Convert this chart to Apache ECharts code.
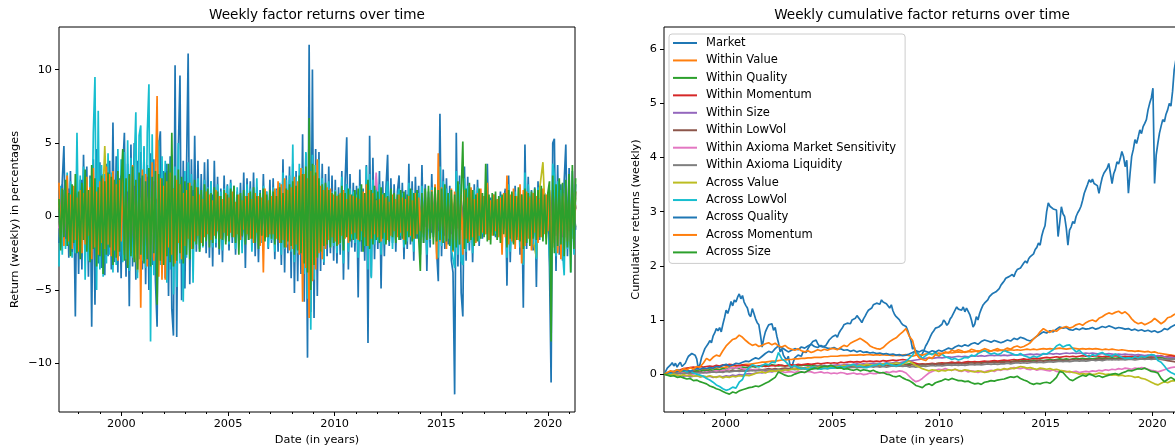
<!DOCTYPE html>
<html>
<head>
<meta charset="utf-8">
<script src="https://cdn.jsdelivr.net/npm/echarts@6/dist/echarts.min.js"></script>
<style>
html,body{margin:0;padding:0;background:#fff;}
#chart{width:1175px;height:448px;}
</style>
</head>
<body>
<div id="chart"></div>
<script>
// Factor names (legend order) and their colours
const NAMES = ['Market','Within Value','Within Quality','Within Momentum','Within Size','Within LowVol',
  'Within Axioma Market Sensitivity','Within Axioma Liquidity','Across Value','Across LowVol',
  'Across Quality','Across Momentum','Across Size'];
const COLORS = ['#1f77b4','#ff7f0e','#2ca02c','#d62728','#9467bd','#8c564b','#e377c2','#7f7f7f',
  '#bcbd22','#17becf','#1f77b4','#ff7f0e','#2ca02c'];

// Tick labels
const MAJOR_YEARS = [2000, 2005, 2010, 2015, 2020];
const MINOR_YEARS = [1998, 1999, 2001, 2002, 2003, 2004, 2006, 2007, 2008, 2009, 2011, 2012, 2013, 2014, 2016, 2017, 2018, 2019, 2021];
const RET_TICKS = [-10, -5, 0, 5, 10];
const CUM_TICKS = [0, 1, 2, 3, 4, 5, 6];

// Sampling of the series (decimal years)
const RET_START = 1997.075;
const CUM_START = 1997.11;
const FINE = 28 / 365.25;    // every 4 weeks
const COARSE = 56 / 365.25;  // every 8 weeks

// ---------- weekly returns (%) ----------
const retMarket = [
1.8,-2.1,2.4,4.8,-1.5,2.3,-2.8,3.1,-2.6,1.2,-6.8,3.3,-3.9,
2.5,-3.6,4.2,-1.9,3.4,-4.1,2.8,-7.5,3.9,-6.0,4.6,-3.2,3.7,
-3.5,2.9,-4.0,3.6,-2.7,3.8,-3.6,6.4,-3.1,4.1,-3.8,2.6,-4.2,
3.3,5.7,-4.1,3.6,-6.1,4.9,-3.4,5.0,-4.3,3.8,-2.9,4.4,-3.6,
4.7,-4.6,3.5,-5.0,4.3,-3.3,3.9,-4.4,-7.5,4.8,5.8,-3.7,3.1,
-4.2,3.6,-5.4,4.1,-6.3,-8.1,10.3,-8.2,4.5,9.6,-5.7,3.8,-4.9,
-5.0,11.1,-4.6,3.9,-3.1,5.5,-2.4,3.8,-2.2,2.9,-1.9,3.7,-2.5,
3.9,-2.8,2.4,-3.4,3.8,-2.1,2.7,-2.6,1.9,-3.1,2.8,-1.7,2.2,
-2.3,2.5,-1.8,2.1,-2.6,1.7,-1.5,2.3,-2.0,3.0,-3.5,2.6,-1.6,
2.4,-1.9,3.0,-2.7,2.0,-3.1,1.8,-1.6,2.9,-1.4,1.7,-2.2,2.5,
-1.8,2.6,-2.9,1.9,-2.4,2.2,-3.3,3.9,-3.8,2.8,-2.5,3.4,-4.2,
3.6,-5.2,3.1,-4.4,2.7,-3.9,5.6,-5.8,4.3,-9.6,11.7,-6.5,10.0,
-6.9,4.6,-5.4,4.4,-3.7,3.6,-3.3,2.9,-2.7,3.4,-2.5,2.8,-3.0,
2.5,-3.2,2.0,-2.6,3.1,-4.3,2.4,5.4,-3.6,2.9,-2.1,2.3,-2.4,
2.1,-5.5,3.2,-2.4,1.9,-3.0,3.5,-8.6,5.5,-4.1,4.0,-2.9,2.6,
-2.2,3.1,-4.9,2.4,-2.7,1.9,4.2,-2.0,2.6,-1.8,2.2,-2.4,1.7,
2.8,-1.6,2.3,-2.9,1.8,-2.2,3.6,-1.9,2.4,-3.0,2.7,-1.5,2.1,
-2.6,3.5,-1.8,2.2,-3.7,1.7,-2.1,2.9,-1.4,2.0,-2.4,-4.4,7.0,
-2.7,3.2,-2.2,2.6,-1.9,2.1,-3.0,-3.8,-12.1,5.7,-3.4,2.8,-5.2,
-6.8,3.4,-3.0,2.7,-2.3,1.9,-3.1,2.2,-1.7,2.5,-2.0,1.6,-1.5,
1.4,-1.2,3.6,-1.6,1.3,-1.0,1.5,-1.4,1.1,-1.3,1.7,-0.9,1.2,
1.9,-4.7,2.8,-3.1,1.6,-1.8,2.1,-1.4,1.3,-2.6,1.5,-6.2,4.9,
-2.2,2.7,-1.5,1.8,-2.3,2.0,-4.8,2.4,-1.6,1.9,-1.3,1.6,-1.1,1.4,
-3.4,-11.3,5.0,5.3,-3.7,3.5,-2.6,2.2,-3.0,2.4,4.9,-2.7,3.3,
-2.4,3.1,-1.8,2.2];

const retWithinValue = [
0.8,-1.1,0.6,-0.9,1.3,-0.7,0.9,-1.2,0.7,-0.8,1.1,-1.4,0.9,
-0.6,1.2,-1.0,0.8,-1.3,0.7,-0.9,1.4,-1.1,0.6,-1.5,1.0,-0.8,
1.3,-1.2,0.9,-1.4,1.1,-0.7,1.5,-1.0,0.8,-0.9,1.2,-0.8,0.7,
-1.1,0.9,-0.6,0.8,-0.7,1.0,-0.9,0.6,-0.8,0.7,-0.6,0.9,-0.7,
0.8,-1.0,0.6,-0.8,0.9,-0.5,0.7,-0.9,0.6,-0.7,1.0,-0.8,0.6,
-0.9,0.7,-0.6,0.8,-0.7,1.1,-1.3,0.9,-1.6,1.2,-1.4,1.7,-1.2,
1.0,-0.9,1.1,-0.8,0.9,-1.0,0.7,-0.8,0.9,-0.6,0.8,-0.7,0.6,
-0.9,0.8,-0.6,0.7,-0.8,0.9,-0.7,0.6,-0.5,0.8,-0.7,0.6,-0.8,
0.7,-0.6,0.9,-0.7,0.5,-0.8,0.7,-0.9,0.8,-0.6,0.7,-0.9,0.6,
-0.7,0.8,-0.5,0.7,-0.8,0.6,-0.7,0.9,-0.6,0.7,-0.8,0.5,-0.6,
0.8,-0.7,0.6,-0.9,0.7,-0.6,0.8,-0.5,0.7,-0.8,1.0,-1.2,0.9,
-1.1,0.8,-1.0,1.1,-0.9,0.8,-1.0,0.9,-1.3,1.2,-0.9,1.0,-0.8,
0.9,-0.7,0.8];

const retWithinQuality = [
-0.7,0.9,-1.2,0.8,-0.6,1.1,-0.9,0.7,-1.3,1.0,-0.8,0.6,-1.0,
1.2,-0.9,0.7,-1.1,1.4,-0.8,1.0,-1.3,0.9,-1.2,1.1,-0.7,1.3,
-1.0,1.2,-1.4,0.8,-1.1,1.5,-0.9,1.0,-1.2,0.7,-0.9,1.1,-0.8,
0.9,-0.7,1.0,-0.8,0.6,-0.9,0.8,-0.6,0.7,-0.8,0.9,-0.5,0.7,
-0.6,0.8,-0.7,0.5,-0.9,0.7,-0.6,0.8,-0.5,0.9,-0.7,0.6,-0.8,
0.6,-0.8,0.7,-0.9,0.8,-0.6,0.9,-1.1,1.3,-1.0,1.4,-1.2,1.1,
-0.9,1.0,-0.8,0.7,-0.9,0.6,-0.7,0.8,-0.6,0.9,-0.7,0.5,-0.8,
0.7,-0.9,0.6,-0.8,1.0,-0.7,0.6,-0.9,0.8,-0.5,0.7,-0.8,0.6,
-0.5,0.8,-0.7,0.6,-0.8,0.7,-0.6,0.9,-0.7,0.5,-0.8,0.6,-0.7,
0.9,-0.8,0.6,-0.9,0.7,-0.6,0.8,-0.7,0.6,-0.9,0.5,-0.7,0.8,
-0.6,0.7,-0.5,0.8,-0.6,0.7,-0.8,0.6,-0.7,0.5,-0.8,0.9,-0.7,
0.8,-1.0,0.7,-0.9,1.1,-0.8,0.9,-1.2,1.0,-0.9,0.8,-1.1,0.9,
-0.8,1.0,-0.7];

const retWithinMomentum = [
1.0,-0.8,1.3,-1.1,0.7,-1.2,0.9,-0.6,1.1,-0.9,1.4,-1.0,0.8,
-1.2,0.9,-0.7,1.3,-1.0,1.1,-1.4,0.8,-0.9,1.2,-1.1,1.5,-0.8,
0.9,-1.3,1.1,-0.8,1.2,-1.0,0.7,-1.2,1.0,-0.9,0.8,-1.1,0.9,
-0.8,0.6,-0.9,0.7,-0.5,0.8,-0.7,0.9,-0.6,0.5,-0.8,0.7,-0.6,
0.7,-0.6,0.5,-0.8,0.6,-0.7,0.9,-0.5,0.6,-0.7,0.8,-0.6,0.5,
-0.7,0.8,-0.6,0.9,-0.8,0.7,-1.0,1.2,-0.9,1.1,-1.5,1.3,-1.1,
1.2,-1.0,0.9,-1.1,0.8,-0.7,1.0,-0.8,0.6,-0.9,0.7,-0.6,0.8,
-0.7,0.6,-0.8,0.9,-0.6,0.7,-0.9,0.5,-0.7,0.8,-0.6,0.7,-0.5,
0.6,-0.7,0.8,-0.5,0.7,-0.6,0.9,-0.8,0.6,-0.7,0.5,-0.8,0.7,
-0.8,0.6,-0.7,0.9,-0.6,0.8,-0.5,0.7,-0.9,0.6,-0.7,0.8,-0.6,
0.5,-0.7,0.6,-0.5,0.8,-0.6,0.7,-0.8,0.5,-0.6,0.7,-0.9,0.8,
-0.7,0.9,-0.8,0.6,-0.9,1.0,-1.2,0.8,-1.1,0.9,-0.7,1.0,-0.8,
0.7,-0.9,0.6];

const retWithinSize = [
-0.9,0.7,-0.5,1.0,-0.8,0.6,-1.1,0.9,-0.7,0.8,-0.6,1.2,-0.9,
0.8,-1.0,1.1,-0.7,0.9,-1.2,0.6,-0.8,1.0,-1.1,0.7,-0.9,1.3,
-0.8,0.9,-1.1,1.2,-0.7,0.8,-1.0,1.1,-0.9,0.6,-1.2,0.9,-0.7,
0.6,-0.8,0.7,-0.6,0.9,-0.5,0.7,-0.8,0.6,-0.7,0.5,-0.9,0.7,
-0.6,0.7,-0.8,0.6,-0.5,0.9,-0.7,0.6,-0.8,0.5,-0.6,0.8,-0.7,
0.8,-0.6,0.9,-0.7,1.0,-0.8,1.2,-1.0,0.9,-1.3,1.1,-0.9,1.2,
-1.0,0.8,-0.9,0.7,-0.6,0.9,-0.8,0.6,-0.7,0.8,-0.5,0.7,-0.6,
0.8,-0.7,0.5,-0.9,0.7,-0.6,0.8,-0.5,0.9,-0.7,0.6,-0.8,0.7,
-0.6,0.5,-0.8,0.7,-0.6,0.9,-0.7,0.5,-0.6,0.8,-0.7,0.6,-0.9,
0.7,-0.6,0.8,-0.5,0.9,-0.7,0.6,-0.8,0.7,-0.5,0.8,-0.6,0.7,
-0.8,0.6,-0.7,0.9,-0.6,0.5,-0.8,0.7,-0.6,0.8,-0.5,0.7,-0.6,
0.9,-0.7,1.0,-0.8,0.7,-1.1,0.9,-0.8,1.0,-0.9,1.2,-0.7,0.8,
-0.9,0.7,-0.8];

const retWithinLowVol = [
0.6,-0.9,1.1,-0.7,0.8,-1.0,0.7,-0.8,1.2,-0.6,0.9,-1.1,0.7,
-0.9,1.1,-0.8,1.3,-1.1,0.8,-1.2,1.0,-0.7,1.4,-0.9,1.1,-1.0,
1.0,-0.8,1.3,-0.9,0.7,-1.1,1.2,-0.8,1.0,-1.2,0.9,-0.7,1.1,
-0.7,0.8,-0.6,0.9,-0.8,0.6,-0.5,0.8,-0.7,0.6,-0.9,0.7,-0.5,
0.6,-0.5,0.8,-0.7,0.6,-0.8,0.5,-0.6,0.9,-0.7,0.5,-0.6,0.8,
-0.5,0.7,-0.8,0.6,-0.9,0.8,-1.1,1.0,-1.3,1.2,-1.0,1.4,-0.9,
0.9,-1.1,0.8,-0.7,1.0,-0.8,0.6,-0.9,0.7,-0.6,0.8,-0.7,0.5,
-0.6,0.8,-0.7,0.6,-0.9,0.8,-0.5,0.7,-0.6,0.9,-0.8,0.5,-0.7,
0.8,-0.6,0.7,-0.8,0.5,-0.7,0.6,-0.5,0.8,-0.7,0.6,-0.8,0.5,
-0.7,0.9,-0.6,0.7,-0.5,0.8,-0.7,0.6,-0.8,0.7,-0.6,0.5,-0.7,
0.6,-0.5,0.7,-0.6,0.8,-0.7,0.5,-0.6,0.7,-0.8,0.6,-0.7,0.9,
-0.8,0.7,-0.9,1.0,-0.7,0.9,-1.1,0.8,-1.0,1.2,-0.8,0.9,-0.7,
0.8,-0.6,0.7];

const retWithinMarketSens = [
-0.8,1.0,-0.6,0.7,-1.1,0.9,-0.7,1.2,-0.9,0.6,-0.8,1.0,-0.6,
0.9,-1.2,0.8,-1.0,1.1,-0.7,1.3,-0.9,1.0,-1.1,0.8,-1.3,1.2,
-1.1,0.9,-0.8,1.2,-1.0,1.3,-0.7,0.9,-1.1,1.0,-0.8,1.2,-0.9,
0.7,-0.9,0.6,-0.7,0.8,-0.6,0.9,-0.7,0.5,-0.8,0.6,-0.7,0.8,
-0.7,0.6,-0.5,0.8,-0.7,0.6,-0.8,0.9,-0.6,0.7,-0.5,0.8,-0.6,
0.7,-0.8,0.6,-0.7,0.9,-1.0,0.8,-1.2,1.4,-1.1,1.3,-1.5,1.0,
-1.2,0.9,-0.8,1.0,-0.7,0.8,-0.9,0.6,-0.8,0.7,-0.6,0.9,-0.7,
0.6,-0.8,0.7,-0.6,0.9,-0.7,3.0,-0.8,0.6,-0.9,0.7,-0.5,0.8,
-0.6,-1.2,0.7,-0.8,0.6,-0.7,0.9,-0.6,0.5,-0.8,0.7,-0.6,0.8,
-0.7,0.6,-0.9,0.8,-0.6,0.7,-0.5,0.9,-0.7,0.6,-0.8,0.7,-0.5,
0.7,-0.8,0.6,-0.7,0.5,-0.9,0.8,-0.6,0.7,-0.5,0.6,-0.8,0.7,
-0.9,0.8,-1.0,0.7,-0.8,1.1,-0.9,1.0,-1.2,0.8,-1.0,0.9,-0.7,
0.8,-0.7,0.9];

const retWithinLiquidity = [
0.7,-0.6,0.9,-1.0,0.6,-0.8,1.1,-0.7,0.8,-0.9,0.6,-1.0,0.8,
-0.8,1.0,-1.1,0.7,-0.9,1.2,-0.8,1.0,-1.2,0.9,-0.7,1.1,-1.0,
0.8,-1.0,1.2,-0.7,0.9,-1.1,0.8,-0.9,1.3,-0.8,1.0,-0.9,0.7,
-0.6,0.7,-0.8,0.5,-0.7,0.8,-0.6,0.7,-0.5,0.9,-0.6,0.5,-0.7,
0.5,-0.7,0.6,-0.8,0.7,-0.5,0.6,-0.7,0.8,-0.6,0.7,-0.5,0.6,
-0.8,0.6,-0.7,0.8,-0.6,0.9,-0.8,1.1,-1.0,1.2,-1.3,0.9,-1.1,
1.0,-0.8,0.7,-0.9,0.6,-0.7,0.8,-0.6,0.9,-0.5,0.7,-0.8,0.6,
-0.7,0.5,-0.8,0.6,-0.7,0.9,-0.6,0.8,-0.5,0.7,-0.6,0.8,-0.7,
0.6,-0.8,0.5,-0.7,0.9,-0.6,0.7,-0.8,0.6,-0.5,0.8,-0.7,0.6,
-0.5,0.7,-0.8,0.6,-0.7,0.5,-0.9,0.8,-0.6,0.7,-0.5,0.6,-0.8,
0.7,-0.6,0.8,-0.7,0.6,-0.8,0.5,-0.7,0.6,-0.9,0.7,-0.6,0.8,
-0.7,1.0,-0.8,0.9,-1.1,0.7,-0.9,1.0,-0.8,1.1,-0.9,0.8,-1.0,
0.9,-0.8,0.7];

const retAcrossValue = [
1.2,-1.5,0.9,-1.3,1.6,-1.1,1.4,-0.9,1.7,-1.4,1.1,-1.6,1.3,
-1.2,4.8,-1.9,1.5,-1.7,2.1,-1.4,1.8,-2.2,1.6,-1.3,-3.8,1.9,
-1.6,2.0,-1.8,1.4,-2.3,1.7,-1.5,2.2,-1.9,1.3,-1.7,1.6,-1.4,
1.1,-1.3,0.9,-1.0,1.2,-0.8,1.1,-1.2,0.8,-0.9,1.3,-1.0,0.9,
-1.0,0.8,-1.2,1.1,-0.9,0.7,-1.1,1.0,-0.8,1.2,-0.7,0.9,-1.1,
0.9,-1.1,1.0,-0.8,1.2,-1.3,1.4,-1.5,1.7,-1.9,2.1,-2.0,1.6,
3.5,-1.7,1.4,-1.2,1.5,-1.1,1.3,-0.9,1.0,-1.2,0.8,-1.0,1.1,
-0.9,1.1,-1.0,0.8,-1.2,0.9,-0.8,1.0,-0.7,1.1,-0.9,0.8,-1.0,
0.8,-0.9,1.1,-0.7,0.9,-1.0,0.8,-1.1,0.7,-0.8,1.0,-0.9,0.7,
-1.0,0.9,-1.1,1.2,-0.8,1.0,-0.9,0.7,-1.1,0.9,-0.8,1.0,-0.7,
0.8,-1.0,0.9,-0.7,1.1,-0.8,0.9,-1.2,0.8,-0.9,1.0,-1.1,0.9,
-1.2,1.4,-1.6,-2.8,1.9,3.7,-1.5,1.7,-1.8,1.5,-1.3,1.6,-1.4,
1.2,-1.5,1.3];

const retAcrossLowVol = [
-3.4,2.1,-2.6,1.8,-2.2,3.0,-1.9,2.4,-2.8,1.6,-2.5,5.7,-1.6,
2.8,-2.1,3.4,-4.3,2.2,-3.0,2.6,-2.4,5.7,9.5,-5.0,7.2,-3.6,
3.5,-4.1,2.9,-3.2,4.3,-2.6,3.0,-3.8,2.5,-3.3,4.6,-2.7,3.9,
-3.1,4.4,-2.9,5.2,-3.7,4.0,-2.8,3.3,7.1,-4.2,5.5,6.2,-3.0,
4.8,-3.5,5.7,9.0,-8.5,5.6,-4.0,3.6,-4.9,5.2,-3.3,4.1,-2.9,
3.8,-4.5,2.7,-3.6,4.2,-5.3,3.4,-4.8,5.0,-3.2,2.6,-5.8,3.1,
-2.8,3.7,-2.3,2.9,-4.5,2.2,-1.9,2.6,-2.4,1.8,-2.1,2.5,-1.7,
2.0,-1.6,2.4,-2.1,1.5,-1.8,2.2,-1.4,1.7,-2.3,1.9,-1.5,2.1,
-1.9,2.3,-1.4,1.6,-2.2,2.0,-1.7,1.4,-2.5,1.8,-1.6,2.2,-1.3,
1.9,-2.4,1.6,-1.5,2.6,-2.0,1.4,-1.8,2.1,-1.2,1.7,-2.1,1.5,
-1.6,2.0,-2.4,1.8,-1.5,2.3,-2.6,3.0,-2.2,2.5,-1.9,2.8,-2.4,
4.9,-3.1,2.7,-2.5,3.6,-2.2,3.3,-3.9,4.4,-5.6,5.1,-7.7,4.2,
-4.3,3.5,-2.8,3.9,-2.4,2.6,-3.1,2.2,-1.8,2.4,-2.1,1.7,-2.0,
1.8,-2.5,1.5,-1.9,2.7,-3.2,1.6,2.2,-2.4,1.9,-1.5,1.7,-1.8,
1.5,-2.8,2.1,-1.6,1.4,-2.0,3.4,-3.6,2.9,-4.2,2.5,-1.9,1.8,
-1.7,2.2,-2.6,1.6,-1.9,1.3,2.4,-1.5,1.8,-2.2,1.4,-1.6,1.2,
1.9,-1.3,1.6,-2.1,1.2,-1.7,2.3,-1.4,1.8,-2.4,1.5,-1.2,1.6,
-1.8,2.1,-1.4,1.7,-2.6,1.3,-1.6,2.0,-1.2,1.6,-1.9,-2.8,3.4,
-2.0,2.4,-1.7,1.9,-1.5,1.6,-2.2,-2.9,-3.5,3.1,-2.6,2.2,-3.0,
-3.3,2.6,-2.4,2.1,-1.8,1.5,-2.5,1.8,-1.4,2.0,-1.7,1.3,-1.2,
1.2,-1.0,1.9,-1.3,1.1,-0.9,1.3,-1.2,1.0,-1.1,1.4,-0.8,1.0,
1.6,-2.8,2.2,-2.4,1.3,-1.5,1.7,-1.2,1.1,-2.1,1.3,-3.3,3.0,
-1.8,2.2,-1.3,1.5,-1.9,1.7,-2.9,2.0,-1.3,1.6,-1.1,1.4,-0.9,1.2,
-2.6,-4.9,3.6,2.8,-2.7,2.4,-2.0,1.8,-2.4,-4.0,2.3,-2.2,1.9,
-3.8,1.5,-2.6,1.7];

const retAcrossQuality = [
-1.8,2.2,-1.5,1.9,-2.4,1.6,-2.0,2.5,-1.7,1.8,-2.3,2.0,-1.6,
2.4,-2.1,1.8,-2.6,2.2,-1.9,2.8,-2.3,1.7,-2.5,2.1,-2.0,2.6,
-2.3,2.7,-1.9,2.4,-2.8,2.0,-2.2,3.1,-2.5,1.9,-2.6,2.2,-1.8,
1.6,-1.3,1.8,-1.5,1.2,-1.6,1.4,-1.1,1.5,-1.3,1.0,-1.4,1.2,
-1.1,1.3,-0.9,1.2,-1.4,1.0,-1.2,0.9,-1.1,1.3,-1.0,1.2,-0.9,
1.1,-1.2,1.0,-1.3,1.4,-1.1,1.6,-1.8,2.1,-2.4,2.7,-2.2,2.0,
-1.9,1.7,-1.5,1.4,-1.2,1.3,-1.1,1.0,-1.3,1.2,-0.9,1.1,-1.0,
1.2,-1.0,1.3,-1.4,1.1,-0.9,1.2,-1.0,0.8,-1.1,0.9,-0.8,1.0,
-0.9,1.0,-0.8,1.1,-0.9,0.7,-1.0,0.8,-0.7,0.9,-1.1,1.2,-1.0,
1.1,-1.3,0.9,-1.2,1.0,-0.8,1.1,-0.9,0.8,-1.0,0.7,-0.9,0.8,
-0.7,0.8,-0.9,0.6,-0.8,0.9,-0.7,1.0,-0.8,0.7,-0.9,1.1,-1.0,
0.9,-1.1,0.8,-1.0,1.2,-0.9,1.0,-1.6,1.8,-1.3,1.2,-1.4,1.1,
-1.0,1.2,-0.9];

const retAcrossMomentum = [
2.3,-1.4,1.9,-2.0,1.2,2.8,-1.7,1.5,-2.2,2.1,-1.6,1.3,-2.4,
1.8,-2.5,1.6,-1.9,2.7,-1.3,2.0,-2.9,3.3,-2.1,1.7,-2.6,2.4,
-1.8,2.6,-2.2,3.4,-1.9,2.9,-2.7,3.1,-2.3,2.2,-3.0,2.5,-1.7,
3.0,-2.6,2.1,-3.3,2.8,-2.4,3.5,-2.9,2.3,-3.6,2.7,-6.2,3.2,
-2.5,2.9,-3.4,2.2,-2.8,3.7,-3.0,2.4,8.2,-4.1,2.6,-4.3,2.1,
-4.3,2.4,-2.1,3.0,-2.6,1.9,-3.2,2.5,-1.8,2.2,-2.9,1.6,-2.0,
1.8,-1.5,2.3,-2.2,1.4,-1.7,2.0,-1.3,1.5,-1.8,1.2,-1.4,1.7,
-1.2,1.5,-1.6,1.1,-1.3,1.8,-1.0,1.4,-1.5,1.2,-1.1,1.6,-1.3,
1.3,-1.1,1.7,-1.4,1.0,-1.2,1.5,-1.6,1.1,-0.9,1.4,-1.2,1.6,
-1.5,1.2,-1.8,1.6,-1.1,1.4,-2.0,1.3,-3.8,1.9,-1.4,1.1,-1.2,
1.4,-1.2,1.9,-1.5,2.4,-1.8,2.2,-1.6,2.6,-2.1,1.8,-2.3,2.0,
-2.2,2.7,-1.9,2.4,-2.6,3.3,-5.8,2.9,-3.5,2.6,-6.9,3.1,-4.4,
2.8,-3.6,3.9,-2.5,2.1,-2.9,1.8,-2.2,2.0,-1.6,1.9,-1.4,1.5,
-1.7,1.4,-1.9,1.6,-1.3,1.8,-1.5,1.2,-1.8,1.5,-1.2,1.4,-1.1,
1.3,-1.6,1.2,-1.0,1.7,-1.4,2.2,-2.0,1.8,-1.5,1.6,-1.2,1.1,
-1.4,1.2,-1.7,1.5,-1.1,1.3,-1.6,1.0,-1.3,1.5,-1.0,1.2,-1.4,
1.5,-1.1,1.3,-1.6,1.2,-1.0,1.4,-1.3,1.1,-1.5,1.6,-1.2,1.3,
-1.0,1.4,-1.2,1.7,-1.6,1.3,-1.4,1.8,-1.1,2.2,-2.9,4.3,-1.7,
2.0,-1.8,1.6,-2.2,1.4,-1.5,1.9,-2.4,1.7,-1.6,2.1,-1.9,1.5,
-2.6,1.8,-1.5,1.3,-1.7,2.0,-1.4,1.2,-1.8,1.6,-1.3,1.9,-1.1,
1.4,-1.2,2.3,-1.6,1.1,-1.3,1.5,-1.0,1.2,-1.4,1.3,-2.6,1.6,
-1.4,2.8,-1.9,1.5,-1.7,1.9,-2.2,1.4,-1.6,2.2,-3.2,1.8,-2.0,
1.7,-1.5,1.3,-2.3,1.6,-1.1,1.4,-1.8,1.2,-1.4,1.9,-1.2,1.5,-1.0,
1.8,-2.8,1.5,-2.1,1.9,-2.5,1.6,-2.9,1.4,-2.2,2.0,-1.7,1.3,
-2.0,1.6,-1.3,1.7];

const retAcrossSize = [
1.2,-2.3,1.9,-1.4,2.5,-2.0,1.6,-2.7,2.2,-1.8,2.9,-2.5,1.7,
-2.9,2.3,-1.6,3.2,-2.4,1.8,-3.1,3.5,-2.2,2.6,-3.4,2.0,-2.7,
2.8,-3.9,2.4,-2.6,3.0,-2.1,2.7,-3.3,2.5,-2.8,3.1,-2.4,2.2,
4.6,-3.0,2.6,-3.5,2.9,-2.7,3.4,-3.1,2.5,-3.6,3.0,-2.6,2.8,
-3.2,2.4,-2.9,3.3,-3.4,2.7,-2.5,3.1,-6.0,2.9,-3.0,2.6,-3.3,
3.0,-2.7,3.6,-3.1,5.7,-3.4,2.8,-3.0,3.2,-2.5,2.7,-3.2,2.4,
-2.6,2.3,-2.9,2.1,-2.2,2.5,-1.9,2.0,-2.4,1.8,-2.0,2.2,-1.7,
1.9,-2.1,1.6,-1.8,2.0,-1.5,1.7,-2.2,1.4,-1.6,1.8,-1.9,1.5,
-1.7,1.9,-1.4,2.1,-1.8,1.5,-2.6,1.6,-1.3,1.8,-1.9,1.4,-1.6,
1.7,-1.5,2.0,-1.8,1.4,-2.2,1.6,-1.3,1.9,-1.7,1.5,-1.4,1.8,
-1.5,1.7,-1.9,1.4,-1.6,2.0,-1.8,1.6,-2.1,1.9,-1.7,2.2,-2.0,
2.4,-2.6,2.1,-2.3,2.8,-2.5,2.9,-3.2,3.4,-3.8,6.7,-5.0,3.6,
-3.3,3.0,-2.8,2.6,-2.4,2.2,-2.0,2.3,-1.9,1.8,-2.1,1.6,-1.8,
1.7,-2.0,1.5,-1.8,2.1,-2.3,1.6,-1.4,1.9,-1.7,1.5,-1.6,1.8,
-1.5,1.9,-1.7,2.2,-2.4,1.6,-2.0,2.5,-2.2,1.8,-1.9,2.1,-1.6,
1.7,-1.8,2.0,-1.5,1.6,-1.9,1.4,-1.7,1.9,-1.4,1.6,-1.8,1.5,
-1.6,1.8,-1.5,1.7,-1.9,1.5,-1.4,1.9,-1.7,1.6,-1.5,1.8,-1.4,
-3.7,1.6,-1.8,1.9,-1.6,2.1,-1.5,1.7,-1.9,2.0,-1.7,1.8,-1.6,
1.9,-1.8,2.2,-1.7,1.6,-2.0,1.8,-2.3,1.5,-2.1,2.4,-1.9,1.7,
5.1,-2.2,1.9,-1.8,2.3,-1.6,1.8,-2.0,1.5,-1.7,1.9,-1.5,1.6,
-1.4,3.6,-1.7,1.5,-1.9,1.6,-1.3,1.7,-1.6,1.4,-1.8,1.5,-1.2,
1.6,-2.1,1.8,-1.5,1.7,-1.9,1.4,-1.6,2.0,-1.7,1.5,-2.2,1.9,
-1.8,1.6,-2.0,1.7,-1.5,1.9,-1.6,1.8,-1.4,2.1,-1.7,1.5,-1.9,1.6,
2.4,-8.5,2.8,-2.5,2.2,-2.0,2.6,-1.9,2.3,-2.7,2.5,-2.1,2.9,
-3.8,3.5,-2.2,2.6];

// ---------- cumulative returns ----------
const cumMarket = [
0.00,0.05,0.11,0.08,0.17,0.21,0.15,0.20,0.13,0.18,0.22,0.14,0.13,
0.20,0.27,0.33,0.30,0.38,0.41,0.35,0.28,0.10,0.18,0.31,0.39,0.47,
0.50,0.56,0.62,0.58,0.70,0.76,0.84,0.80,0.86,0.78,0.92,1.04,1.18,
1.12,1.22,1.34,1.26,1.37,1.33,1.42,1.48,1.39,1.45,1.33,1.27,1.22,
1.10,1.06,1.21,1.12,1.02,0.95,0.91,0.72,0.50,0.66,0.78,0.85,0.91,
0.88,0.93,0.81,0.86,0.70,0.58,0.41,0.47,0.35,0.30,0.26,0.33,0.18,
0.10,0.22,0.30,0.27,0.35,0.38,0.33,0.41,0.44,0.40,0.47,0.52,0.55,
0.60,0.57,0.63,0.56,0.52,0.55,0.50,0.48,0.53,0.58,0.63,0.66,0.69,
0.69,0.72,0.68,0.76,0.81,0.85,0.91,0.88,0.94,0.97,0.93,1.00,1.03,
1.03,1.08,1.05,1.00,0.95,1.02,1.07,1.13,1.18,1.15,1.22,1.28,1.31,
1.31,1.34,1.29,1.37,1.33,1.35,1.30,1.31,1.22,1.28,1.17,1.10,1.06,
1.06,1.00,0.95,0.91,0.93,0.88,0.81,0.84,0.62,0.46,0.50,0.40,0.38,
0.36,0.32,0.35,0.44,0.52,0.57,0.63,0.70,0.76,0.80,0.85,0.88,0.87,
0.87,0.92,1.00,0.96,0.90,0.94,1.02,1.06,1.12,1.18,1.24,1.20,1.23,
1.18,1.24,1.15,1.22,1.19,1.10,1.00,0.87,0.92,1.06,1.00,1.12,1.20,
1.27,1.31,1.29,1.37,1.43,1.40,1.49,1.46,1.52,1.49,1.58,1.64,1.68,
1.72,1.77,1.74,1.80,1.78,1.84,1.80,1.88,1.93,1.90,1.96,1.98,2.05,
2.09,2.05,2.13,2.17,2.14,2.22,2.30,2.34,2.42,2.38,2.55,2.66,2.74,
3.00,3.16,3.10,3.12,3.05,3.07,3.03,2.54,2.80,3.09,2.96,2.91,2.70,
2.38,2.66,2.72,2.82,2.78,2.91,2.98,3.03,3.10,3.21,3.34,3.42,3.50,
3.59,3.54,3.60,3.52,3.55,3.48,3.34,3.50,3.63,3.71,3.68,3.80,3.89,
3.89,3.52,3.70,3.78,3.92,3.88,3.98,4.11,4.02,3.83,3.95,3.34,3.70,
4.02,4.15,4.33,4.26,4.38,4.51,4.44,4.57,4.63,4.70,4.88,5.00,5.10,5.28,
3.52,4.05,4.26,4.45,4.58,4.70,4.66,4.80,4.88,5.00,4.95,5.22,5.62,
5.80,5.90,6.00,6.05];

const cumWithinValue = [
0.00,0.01,0.02,0.02,0.03,0.04,0.04,0.05,0.06,0.06,0.07,0.08,0.08,
0.09,0.10,0.10,0.11,0.12,0.12,0.13,0.14,0.15,0.15,0.16,0.17,0.18,
0.18,0.19,0.20,0.21,0.22,0.22,0.23,0.24,0.24,0.25,0.26,0.26,0.27,
0.27,0.28,0.28,0.29,0.29,0.30,0.30,0.31,0.31,0.31,0.32,0.32,0.33,
0.33,0.33,0.34,0.34,0.34,0.35,0.35,0.35,0.36,0.35,0.36,0.36,0.35,
0.36,0.35,0.36,0.35,0.35,0.34,0.35,0.34,0.35,0.36,0.34,0.33,0.35,
0.36,0.35,0.37,0.38,0.37,0.38,0.39,0.38,0.39,0.40,0.39,0.40,0.41,
0.40,0.41,0.42,0.41,0.42,0.43,0.42,0.43,0.42,0.43,0.44,0.43,0.44,
0.43,0.44,0.45,0.44,0.45,0.44,0.45,0.46,0.45,0.46,0.45,0.46,0.47,
0.46,0.47,0.46,0.47,0.48,0.47,0.46,0.47,0.48,0.47,0.46,0.47,0.46,
0.47,0.46,0.47,0.46,0.45,0.46,0.45,0.46,0.45,0.44,0.45,0.44,0.43,
0.43,0.42,0.43,0.42,0.41,0.42,0.40,0.41,0.39,0.38,0.37,0.36,0.35,
0.34,0.33,0.32];

const cumWithinQuality = [
0.00,0.01,0.02,0.01,0.03,0.02,0.04,0.03,0.05,0.04,0.06,0.05,0.07,
0.06,0.08,0.07,0.09,0.08,0.10,0.09,0.11,0.10,0.12,0.11,0.13,0.12,
0.13,0.14,0.13,0.15,0.14,0.16,0.15,0.17,0.16,0.15,0.16,0.15,0.16,
0.15,0.16,0.15,0.16,0.17,0.16,0.15,0.16,0.15,0.16,0.15,0.14,0.15,
0.14,0.15,0.14,0.15,0.16,0.15,0.14,0.15,0.16,0.15,0.16,0.15,0.16,
0.15,0.16,0.17,0.16,0.17,0.16,0.17,0.18,0.17,0.18,0.19,0.18,0.17,
0.18,0.17,0.18,0.19,0.18,0.19,0.20,0.19,0.20,0.19,0.20,0.21,0.20,
0.21,0.20,0.21,0.22,0.21,0.22,0.21,0.22,0.23,0.22,0.23,0.22,0.23,
0.23,0.24,0.23,0.24,0.25,0.24,0.25,0.24,0.25,0.26,0.25,0.26,0.25,
0.26,0.27,0.26,0.27,0.28,0.27,0.28,0.27,0.28,0.29,0.28,0.29,0.28,
0.29,0.28,0.29,0.30,0.29,0.30,0.29,0.30,0.29,0.30,0.31,0.30,0.29,
0.30,0.29,0.30,0.29,0.30,0.31,0.30,0.29,0.30,0.31,0.29,0.28,0.29,
0.30,0.29,0.30];

const cumWithinMomentum = [
0.00,0.02,0.04,0.05,0.07,0.08,0.10,0.11,0.12,0.13,0.12,0.14,0.13,
0.14,0.15,0.14,0.16,0.15,0.17,0.16,0.18,0.17,0.16,0.15,0.17,0.16,
0.15,0.16,0.14,0.15,0.16,0.14,0.15,0.16,0.15,0.17,0.16,0.15,0.16,
0.17,0.16,0.18,0.17,0.18,0.19,0.18,0.19,0.20,0.19,0.20,0.21,0.20,
0.21,0.20,0.22,0.21,0.22,0.23,0.22,0.23,0.22,0.24,0.23,0.24,0.23,
0.24,0.23,0.25,0.24,0.25,0.26,0.25,0.26,0.27,0.26,0.24,0.22,0.20,
0.18,0.19,0.18,0.19,0.20,0.19,0.20,0.21,0.20,0.21,0.22,0.21,0.22,
0.21,0.22,0.23,0.22,0.23,0.22,0.23,0.24,0.23,0.24,0.25,0.24,0.25,
0.26,0.25,0.26,0.27,0.26,0.27,0.28,0.27,0.28,0.29,0.28,0.29,0.30,
0.31,0.30,0.31,0.32,0.31,0.32,0.33,0.32,0.33,0.32,0.33,0.34,0.33,
0.34,0.33,0.34,0.33,0.32,0.33,0.32,0.33,0.34,0.33,0.32,0.33,0.32,
0.33,0.32,0.33,0.34,0.33,0.34,0.33,0.32,0.33,0.34,0.32,0.33,0.34,
0.33,0.32,0.31];

const cumWithinSize = [
0.00,-0.01,-0.02,-0.01,-0.03,-0.02,-0.04,-0.03,-0.05,-0.04,-0.03,-0.05,-0.04,
-0.05,-0.04,-0.06,-0.05,-0.04,-0.05,-0.03,-0.04,-0.02,-0.03,-0.01,-0.02,0.00,
0.01,0.00,0.02,0.03,0.02,0.04,0.05,0.04,0.06,0.07,0.06,0.08,0.09,
0.09,0.10,0.11,0.10,0.12,0.13,0.12,0.14,0.15,0.14,0.16,0.15,0.16,
0.16,0.17,0.16,0.17,0.18,0.17,0.18,0.19,0.18,0.19,0.18,0.19,0.20,
0.19,0.20,0.19,0.21,0.20,0.21,0.22,0.21,0.22,0.23,0.24,0.25,0.26,
0.27,0.28,0.29,0.30,0.29,0.30,0.31,0.30,0.31,0.32,0.31,0.32,0.33,
0.32,0.33,0.32,0.33,0.34,0.33,0.34,0.33,0.34,0.35,0.34,0.35,0.34,
0.35,0.34,0.35,0.36,0.35,0.36,0.35,0.36,0.37,0.36,0.37,0.36,0.37,
0.37,0.38,0.37,0.38,0.37,0.38,0.39,0.38,0.39,0.38,0.39,0.38,0.39,
0.38,0.39,0.38,0.37,0.38,0.37,0.38,0.37,0.36,0.37,0.36,0.37,0.36,
0.36,0.35,0.36,0.35,0.34,0.35,0.34,0.33,0.34,0.33,0.32,0.31,0.30,
0.30,0.29,0.28];

const cumWithinLowVol = [
0.00,0.01,0.00,0.02,0.01,0.02,0.03,0.02,0.03,0.04,0.03,0.04,0.03,
0.04,0.05,0.04,0.05,0.06,0.05,0.06,0.05,0.07,0.06,0.07,0.08,0.07,
0.08,0.07,0.08,0.09,0.08,0.09,0.10,0.09,0.10,0.09,0.10,0.11,0.10,
0.11,0.10,0.11,0.12,0.11,0.12,0.11,0.12,0.13,0.12,0.13,0.12,0.13,
0.13,0.14,0.13,0.14,0.13,0.14,0.15,0.14,0.15,0.14,0.15,0.16,0.15,
0.16,0.15,0.16,0.17,0.16,0.17,0.16,0.17,0.18,0.17,0.16,0.18,0.17,
0.17,0.18,0.17,0.18,0.19,0.18,0.19,0.18,0.19,0.20,0.19,0.20,0.19,
0.20,0.19,0.20,0.21,0.20,0.21,0.20,0.21,0.22,0.21,0.22,0.21,0.22,
0.22,0.23,0.22,0.23,0.22,0.23,0.24,0.23,0.24,0.23,0.24,0.25,0.24,
0.25,0.24,0.25,0.26,0.25,0.26,0.25,0.26,0.27,0.26,0.27,0.26,0.27,
0.27,0.26,0.27,0.28,0.27,0.28,0.27,0.28,0.27,0.28,0.29,0.28,0.29,
0.28,0.29,0.28,0.29,0.30,0.29,0.30,0.29,0.28,0.27,0.26,0.25,0.24,
0.23,0.22,0.22];

const cumWithinMarketSens = [
0.00,0.01,0.00,0.02,0.01,0.03,0.02,0.01,-0.01,0.00,0.02,0.03,0.02,
0.04,0.03,0.05,0.06,0.05,0.07,0.08,0.10,0.12,0.11,0.13,0.10,0.09,
0.10,0.08,0.09,0.07,0.08,0.06,0.07,0.05,0.06,0.04,0.05,0.03,0.04,
0.04,0.03,0.05,0.04,0.03,0.05,0.04,0.02,0.03,0.04,0.02,0.03,0.01,
0.02,0.01,0.03,0.02,0.00,0.01,0.02,0.00,0.01,-0.01,0.00,0.02,0.01,
0.01,0.03,0.02,0.04,0.03,0.05,0.04,0.06,0.05,0.02,-0.04,-0.10,-0.14,
-0.12,-0.08,-0.03,0.02,0.05,0.07,0.09,0.08,0.10,0.08,0.07,0.09,0.06,
0.05,0.07,0.04,0.06,0.05,0.03,0.05,0.04,0.06,0.07,0.05,0.08,0.07,
0.09,0.08,0.10,0.12,0.11,0.10,0.12,0.09,0.08,0.10,0.07,0.09,0.08,
0.07,0.06,0.08,0.05,0.04,0.06,0.05,0.03,0.04,0.05,0.03,0.04,0.05,
0.04,0.06,0.05,0.07,0.06,0.08,0.07,0.09,0.08,0.10,0.09,0.11,0.10,
0.09,0.11,0.10,0.12,0.11,0.09,0.07,0.06,0.04,0.06,0.08,0.10,0.12,
0.13,0.12,0.14];

const cumWithinLiquidity = [
0.00,0.00,0.01,0.00,0.01,0.02,0.01,0.02,0.01,0.02,0.03,0.02,0.03,
0.02,0.03,0.04,0.03,0.04,0.03,0.05,0.04,0.05,0.06,0.05,0.06,0.05,
0.06,0.07,0.06,0.07,0.08,0.07,0.08,0.07,0.08,0.09,0.08,0.09,0.08,
0.09,0.08,0.09,0.10,0.09,0.10,0.09,0.10,0.11,0.10,0.11,0.10,0.11,
0.11,0.12,0.11,0.12,0.11,0.12,0.13,0.12,0.13,0.12,0.13,0.14,0.13,
0.14,0.13,0.14,0.13,0.14,0.15,0.14,0.15,0.14,0.15,0.13,0.14,0.13,
0.14,0.15,0.14,0.15,0.16,0.15,0.16,0.15,0.16,0.17,0.16,0.17,0.16,
0.17,0.16,0.17,0.18,0.17,0.18,0.17,0.18,0.19,0.18,0.19,0.18,0.19,
0.19,0.20,0.19,0.20,0.21,0.20,0.21,0.20,0.21,0.22,0.21,0.22,0.21,
0.22,0.23,0.22,0.23,0.24,0.23,0.24,0.23,0.24,0.25,0.24,0.25,0.24,
0.25,0.26,0.25,0.26,0.25,0.26,0.27,0.26,0.27,0.26,0.27,0.26,0.27,
0.27,0.26,0.27,0.28,0.27,0.28,0.27,0.28,0.27,0.28,0.27,0.28,0.27,
0.28,0.27,0.28];

const cumAcrossValue = [
0.00,-0.01,-0.02,0.00,-0.02,-0.03,-0.01,-0.03,-0.02,-0.04,-0.03,-0.05,-0.04,
-0.05,-0.03,-0.05,-0.06,-0.04,-0.07,-0.05,-0.06,-0.04,-0.05,-0.03,-0.04,-0.02,
-0.03,-0.01,0.01,0.03,0.04,0.02,0.05,0.06,0.05,0.07,0.06,0.08,0.07,
0.09,0.10,0.08,0.11,0.10,0.12,0.11,0.13,0.12,0.14,0.13,0.12,0.14,
0.13,0.15,0.14,0.16,0.15,0.17,0.16,0.15,0.17,0.16,0.18,0.17,0.16,
0.18,0.17,0.19,0.18,0.20,0.19,0.21,0.20,0.18,0.22,0.24,0.20,0.16,
0.13,0.10,0.08,0.06,0.08,0.07,0.05,0.07,0.06,0.08,0.07,0.09,0.07,
0.06,0.08,0.07,0.05,0.04,0.06,0.05,0.03,0.04,0.06,0.07,0.09,0.08,
0.10,0.09,0.11,0.10,0.12,0.14,0.13,0.11,0.12,0.10,0.09,0.11,0.10,
0.09,0.10,0.08,0.09,0.07,0.06,0.04,0.05,0.03,0.02,0.00,0.01,0.00,
0.01,-0.01,0.00,0.02,0.01,-0.01,0.00,-0.02,-0.01,-0.03,-0.02,-0.04,-0.03,
-0.04,-0.06,-0.05,-0.08,-0.09,-0.12,-0.15,-0.18,-0.20,-0.17,-0.14,-0.16,-0.13,
-0.12,-0.14,-0.13];

const cumAcrossLowVol = [
0.00,0.03,0.01,0.05,0.08,0.06,0.07,0.04,0.06,0.02,0.00,-0.02,-0.04,
-0.08,-0.11,-0.15,-0.20,-0.23,-0.27,-0.30,-0.28,-0.24,-0.26,-0.15,-0.10,0.05,
0.12,0.17,0.15,0.13,0.16,0.19,0.17,0.22,0.21,0.40,0.28,0.24,0.18,
0.13,0.16,0.12,0.10,0.11,0.08,0.12,0.13,0.10,0.09,0.11,0.10,0.12,
0.11,0.13,0.14,0.12,0.15,0.16,0.18,0.14,0.15,0.13,0.12,0.14,0.16,
0.17,0.19,0.16,0.20,0.18,0.16,0.15,0.17,0.20,0.24,0.29,0.35,0.44,
0.35,0.29,0.34,0.38,0.36,0.41,0.33,0.37,0.32,0.30,0.27,0.29,0.26,
0.28,0.31,0.30,0.35,0.33,0.38,0.41,0.44,0.40,0.37,0.39,0.36,0.38,
0.44,0.41,0.39,0.36,0.35,0.38,0.34,0.32,0.30,0.33,0.31,0.34,0.38,
0.37,0.41,0.45,0.52,0.55,0.50,0.53,0.54,0.47,0.41,0.44,0.38,0.35,
0.32,0.36,0.34,0.38,0.40,0.36,0.35,0.33,0.37,0.34,0.31,0.29,0.30,
0.29,0.32,0.30,0.33,0.31,0.34,0.36,0.35,0.25,0.22,0.15,0.07,0.03,
0.00,-0.03,0.02];

const cumAcrossQuality = [
0.00,0.02,0.04,0.03,0.06,0.05,0.08,0.07,0.05,0.08,0.10,0.09,0.11,
0.10,0.12,0.11,0.14,0.13,0.16,0.18,0.15,0.17,0.20,0.19,0.22,0.24,
0.23,0.27,0.30,0.28,0.33,0.38,0.42,0.40,0.47,0.52,0.49,0.45,0.41,
0.44,0.47,0.45,0.50,0.48,0.52,0.55,0.51,0.49,0.53,0.50,0.48,0.47,
0.49,0.46,0.47,0.44,0.45,0.42,0.44,0.41,0.43,0.40,0.41,0.39,0.40,
0.38,0.39,0.37,0.38,0.36,0.37,0.35,0.36,0.34,0.35,0.37,0.40,0.43,
0.41,0.44,0.42,0.40,0.43,0.41,0.44,0.42,0.45,0.48,0.46,0.50,0.53,
0.51,0.54,0.52,0.56,0.58,0.55,0.60,0.63,0.61,0.59,0.62,0.60,0.58,
0.60,0.63,0.61,0.66,0.64,0.68,0.66,0.63,0.61,0.65,0.70,0.74,0.78,
0.76,0.80,0.78,0.83,0.87,0.85,0.86,0.82,0.81,0.84,0.82,0.85,0.83,
0.84,0.86,0.83,0.85,0.88,0.86,0.89,0.87,0.84,0.86,0.85,0.83,0.84,
0.81,0.83,0.80,0.82,0.79,0.81,0.78,0.80,0.77,0.79,0.84,0.82,0.87,
0.90,0.93,0.95];

const cumAcrossMomentum = [
0.00,0.03,0.06,0.04,0.08,0.05,0.10,0.08,0.12,0.09,0.14,0.13,0.20,
0.29,0.25,0.31,0.35,0.33,0.43,0.52,0.58,0.64,0.66,0.72,0.68,0.62,
0.57,0.53,0.55,0.51,0.53,0.56,0.58,0.54,0.57,0.52,0.50,0.53,0.48,
0.46,0.44,0.47,0.43,0.41,0.43,0.40,0.42,0.45,0.43,0.46,0.44,0.47,
0.47,0.45,0.49,0.53,0.51,0.57,0.60,0.63,0.66,0.62,0.58,0.52,0.49,
0.47,0.46,0.49,0.55,0.60,0.64,0.67,0.73,0.78,0.84,0.70,0.62,0.38,
0.30,0.27,0.25,0.31,0.29,0.36,0.34,0.38,0.41,0.39,0.44,0.42,0.45,
0.43,0.40,0.42,0.46,0.44,0.41,0.44,0.47,0.45,0.42,0.45,0.47,0.44,
0.45,0.48,0.46,0.50,0.52,0.49,0.51,0.54,0.58,0.65,0.70,0.78,0.84,
0.80,0.77,0.81,0.79,0.84,0.86,0.88,0.85,0.87,0.91,0.93,0.90,0.95,
0.98,1.00,0.97,1.03,1.06,1.10,1.13,1.11,1.14,1.16,1.12,1.15,1.10,
1.02,0.96,0.93,0.95,0.91,0.94,0.97,1.03,0.98,0.93,0.97,1.04,1.06,
1.10,1.13,1.12];

const cumAcrossSize = [
0.00,-0.02,-0.04,-0.03,-0.06,-0.05,-0.07,-0.09,-0.08,-0.12,-0.11,-0.14,-0.16,
-0.18,-0.22,-0.24,-0.27,-0.29,-0.32,-0.35,-0.37,-0.33,-0.35,-0.31,-0.29,-0.27,
-0.25,-0.24,-0.22,-0.23,-0.20,-0.17,-0.14,-0.10,-0.06,0.04,0.01,-0.02,-0.04,
-0.03,0.00,0.02,0.04,0.03,0.06,0.09,0.11,0.10,0.13,0.15,0.14,0.16,
0.14,0.11,0.12,0.09,0.10,0.08,0.07,0.09,0.06,0.08,0.07,0.05,0.07,
0.04,0.02,0.03,0.00,-0.01,-0.04,-0.05,-0.03,-0.07,-0.10,-0.12,-0.16,-0.21,
-0.23,-0.25,-0.20,-0.18,-0.21,-0.16,-0.14,-0.12,-0.09,-0.11,-0.08,-0.10,-0.12,
-0.12,-0.14,-0.13,-0.16,-0.18,-0.17,-0.19,-0.15,-0.14,-0.12,-0.13,-0.11,-0.10,
-0.09,-0.07,-0.05,-0.06,-0.04,-0.08,-0.11,-0.13,-0.17,-0.19,-0.17,-0.18,-0.16,
-0.15,-0.17,-0.12,-0.06,0.05,0.03,-0.04,-0.10,-0.12,-0.08,-0.05,-0.02,-0.04,
0.00,-0.02,-0.05,-0.03,-0.06,-0.04,-0.02,0.00,0.01,-0.01,0.02,0.04,0.07,
0.06,0.08,0.10,0.09,0.11,0.08,0.05,0.04,0.02,-0.08,-0.14,-0.10,-0.06,
-0.10,-0.15,-0.18];

// Per-factor table: weekly returns, cumulative returns and their sampling steps
const WEEKLY = [retMarket, retWithinValue, retWithinQuality, retWithinMomentum, retWithinSize, retWithinLowVol,
  retWithinMarketSens, retWithinLiquidity, retAcrossValue, retAcrossLowVol, retAcrossQuality, retAcrossMomentum, retAcrossSize];
const WEEKLY_STEP = [FINE, COARSE, COARSE, COARSE, COARSE, COARSE, COARSE, COARSE, COARSE, FINE, COARSE, FINE, FINE];
const CUMULATIVE = [cumMarket, cumWithinValue, cumWithinQuality, cumWithinMomentum, cumWithinSize, cumWithinLowVol,
  cumWithinMarketSens, cumWithinLiquidity, cumAcrossValue, cumAcrossLowVol, cumAcrossQuality, cumAcrossMomentum, cumAcrossSize];
const CUM_STEP = [FINE, COARSE, COARSE, COARSE, COARSE, COARSE, COARSE, COARSE, COARSE, COARSE, COARSE, COARSE, COARSE];

const FONT = 'DejaVu Sans';
const TXT = '#000';
const fmtNum = v => (v < 0 ? '\u2212' + Math.abs(v) : String(v));

function toPoints(vals, start, step) {
  return vals.map((v, i) => [start + i * step, v]);
}

function xAxisPair(gridIndex, min, max) {
  return [
    {
      gridIndex, type: 'value', position: 'bottom', min, max,
      name: 'Date (in years)', nameLocation: 'middle', nameGap: 20,
      nameTextStyle: { fontFamily: FONT, fontSize: 11.3, color: TXT },
      axisLine: { show: false, onZero: false },
      axisTick: { show: true, customValues: MAJOR_YEARS, length: 4, lineStyle: { color: TXT, width: 1 } },
      axisLabel: { show: true, customValues: MAJOR_YEARS, formatter: v => String(v), margin: 7,
        fontFamily: FONT, fontSize: 11.3, color: TXT },
      splitLine: { show: false }
    },
    {
      gridIndex, type: 'value', position: 'bottom', min, max,
      axisLine: { show: false, onZero: false },
      axisTick: { show: true, customValues: MINOR_YEARS, length: 2, lineStyle: { color: TXT, width: 1 } },
      axisLabel: { show: false },
      splitLine: { show: false }
    }
  ];
}

function yAxisDef(gridIndex, min, max, ticks, name, nameGap) {
  return {
    gridIndex, type: 'value', position: 'left', min, max,
    name, nameLocation: 'middle', nameGap, nameRotate: 90,
    nameTextStyle: { fontFamily: FONT, fontSize: 11.3, color: TXT },
    axisLine: { show: false, onZero: false },
    axisTick: { show: true, customValues: ticks, length: 4, lineStyle: { color: TXT, width: 1 } },
    axisLabel: { show: true, customValues: ticks, formatter: fmtNum, margin: 7,
      fontFamily: FONT, fontSize: 11.3, color: TXT },
    splitLine: { show: false }
  };
}

const series = [];
NAMES.forEach((name, k) => {
  series.push({
    type: 'line', name, xAxisIndex: 0, yAxisIndex: 0,
    data: toPoints(WEEKLY[k], RET_START, WEEKLY_STEP[k]),
    showSymbol: false, symbol: 'none', clip: true, silent: true,
    lineStyle: { color: COLORS[k], width: 1.7 }, itemStyle: { color: COLORS[k] },
    emphasis: { disabled: true }
  });
});
NAMES.forEach((name, k) => {
  series.push({
    type: 'line', name, xAxisIndex: 2, yAxisIndex: 1,
    data: toPoints(CUMULATIVE[k], CUM_START, CUM_STEP[k]),
    showSymbol: false, symbol: 'none', clip: true, silent: true,
    lineStyle: { color: COLORS[k], width: 1.7 }, itemStyle: { color: COLORS[k] },
    emphasis: { disabled: true }
  });
});

const chart = echarts.init(document.getElementById('chart'), null, { renderer: 'canvas' });
chart.setOption({
  animation: false,
  backgroundColor: '#fff',
  textStyle: { fontFamily: FONT },
  title: [
    { text: 'Weekly factor returns over time', left: 317, top: 8, textAlign: 'center', padding: 0,
      textStyle: { fontFamily: FONT, fontSize: 13.6, fontWeight: 'normal', color: TXT } },
    { text: 'Weekly cumulative factor returns over time', left: 922, top: 8, textAlign: 'center', padding: 0,
      textStyle: { fontFamily: FONT, fontSize: 13.6, fontWeight: 'normal', color: TXT } }
  ],
  grid: [
    { left: 59, top: 27, width: 516, height: 385, outerBoundsMode: 'none', containLabel: false,
      show: true, borderColor: '#000', borderWidth: 1, backgroundColor: 'transparent' },
    { left: 664, top: 27, width: 516, height: 385, outerBoundsMode: 'none', containLabel: false,
      show: true, borderColor: '#000', borderWidth: 1, backgroundColor: 'transparent' }
  ],
  xAxis: [...xAxisPair(0, 1997.075, 2021.27), ...xAxisPair(1, 1997.11, 2021.30)],
  yAxis: [
    yAxisDef(0, -13.3, 12.9, RET_TICKS, 'Return (weekly) in percentages', 38),
    yAxisDef(1, -0.70, 6.41, CUM_TICKS, 'Cumulative returns (weekly)', 22)
  ],
  legend: {
    data: NAMES, orient: 'vertical', left: 669, top: 34,
    padding: [2, 9, 4, 4], itemGap: 3.45, itemWidth: 24, itemHeight: 2, icon: 'rect',
    selectedMode: false,
    textStyle: { fontFamily: FONT, fontSize: 11.5, color: TXT, lineHeight: 14, padding: [0, 0, 0, 4] },
    backgroundColor: 'rgba(255,255,255,0.8)', borderColor: '#cccccc', borderWidth: 1, borderRadius: 3,
    z: 10
  },
  series
});
</script>
</body>
</html>
